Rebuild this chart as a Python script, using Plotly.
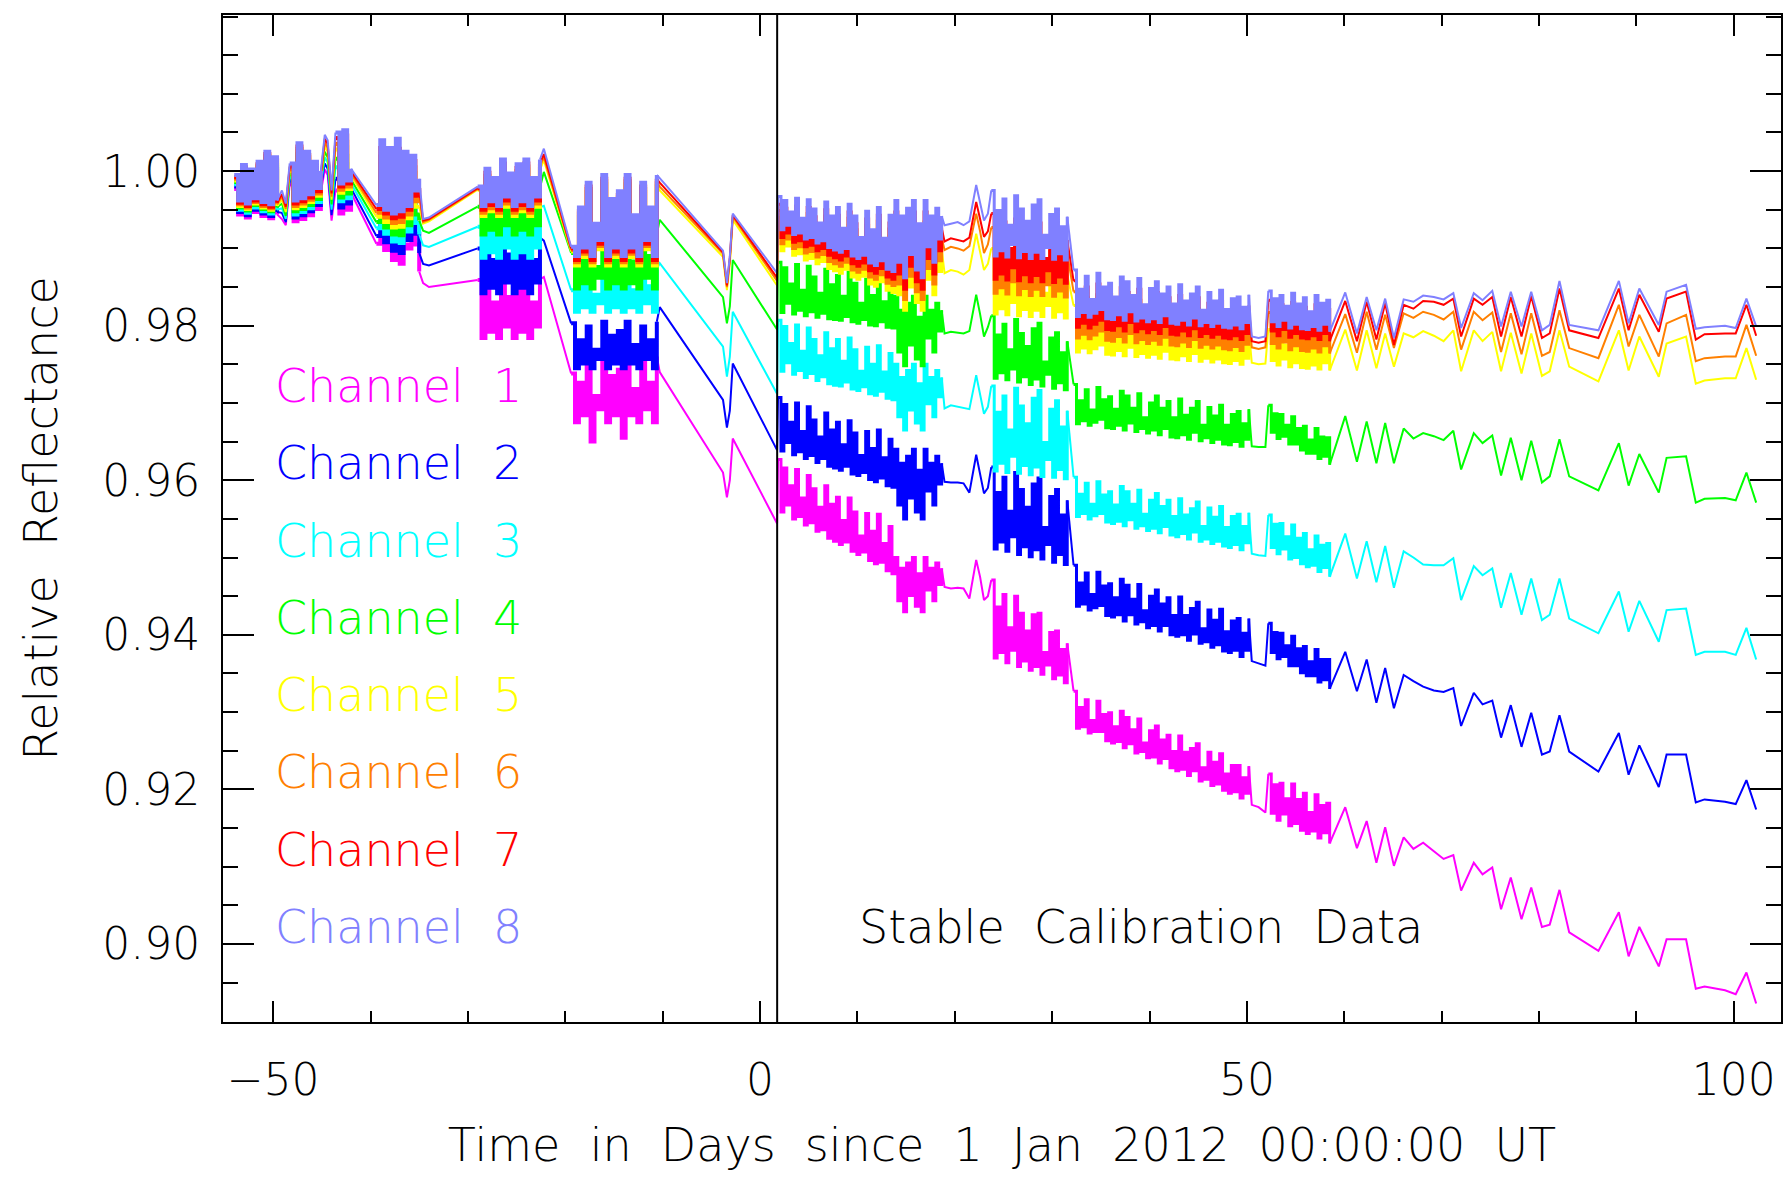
import plotly.graph_objects as go

# ---------------- data ----------------
days = [
    -54.0, -53.6, -53.2, -52.8, -52.4, -52.0, -51.6, -51.2, -50.8, -50.4, -50.0, -49.6,
    -49.1, -48.7,
    -48.3, -47.9, -47.5, -47.1, -46.7, -46.3, -45.9, -45.5, -45.1,
    -44.7, -44.4, -44.0,
    -43.6, -43.2, -42.8, -42.4, -42.0,
    -39.4, -39.0, -38.6, -38.2, -37.8, -37.4, -37.0, -36.6, -36.2, -35.8, -35.4, -35.0,
    -34.6, -34.0,
    -29.0, -28.6, -28.2, -27.8, -27.4, -27.0, -26.6, -26.2, -25.8, -25.4, -25.0, -24.6, -24.2, -23.8, -23.4, -23.0, -22.6,
    -22.2,
    -19.4, -19.0, -18.6, -18.2, -17.8, -17.4, -17.0, -16.6, -16.2, -15.8, -15.4, -15.0, -14.6, -14.2, -13.8, -13.4, -13.0, -12.6, -12.2, -11.8, -11.4, -11.0, -10.6,
    -10.3,
    -3.8, -3.4, -3.1, -2.8,
    1.75,
    1.85, 2.15, 2.45, 2.75, 3.05, 3.35, 3.65, 3.95, 4.25, 4.55, 4.85, 5.15, 5.45, 5.75, 6.05, 6.35, 6.65, 6.95, 7.25, 7.55,
    7.85, 8.15, 8.45, 8.75, 9.05, 9.35, 9.65, 9.95, 10.25, 10.55, 10.85, 11.15, 11.45, 11.75, 12.05, 12.35, 12.65, 12.95, 13.25, 13.55,
    13.85, 14.15, 14.45, 14.75, 15.05, 15.35, 15.65, 15.95, 16.25, 16.55, 16.85, 17.15, 17.45, 17.75, 18.05, 18.35, 18.65,
    18.95, 19.6, 20.3, 20.9, 21.5, 22.2, 22.6, 23.0, 23.4,
    23.75, 24.05, 24.35, 24.65, 24.95, 25.25, 25.55, 25.85, 26.15, 26.45, 26.75, 27.05, 27.35, 27.65, 27.95, 28.25, 28.55, 28.85, 29.15, 29.45,
    29.75, 30.05, 30.35, 30.65, 30.95, 31.25, 31.55,
    32.2, 32.5, 32.8, 33.1, 33.4, 33.7, 34.0, 34.3, 34.6, 34.9, 35.2, 35.5, 35.8, 36.1, 36.4, 36.7, 37.0, 37.3, 37.6, 37.9,
    38.2, 38.5, 38.8, 39.1, 39.4, 39.7, 40.0, 40.3, 40.6, 40.9, 41.2, 41.5, 41.8, 42.1, 42.4, 42.7, 43.0, 43.3, 43.6, 43.9,
    44.2, 44.5, 44.8, 45.1, 45.4, 45.7, 46.0, 46.3, 46.6, 46.9, 47.2, 47.5, 47.8, 48.1, 48.4, 48.7, 49.0, 49.3, 49.6, 49.9, 50.2,
    50.5, 51.2, 51.9,
    52.2, 52.5, 52.8, 53.1, 53.4, 53.7, 54.0, 54.3, 54.6, 54.9, 55.2, 55.5, 55.8, 56.1, 56.4, 56.7, 57.0, 57.3, 57.6, 57.9, 58.2, 58.5,
    60.1, 61.3, 62.3, 63.3, 64.2, 65.1, 66.1, 67.1, 68.1, 69.2, 70.2, 71.2, 72.0, 73.3, 74.2, 75.2, 76.1, 77.1, 78.2, 79.2,
    80.3, 81.1, 82.1, 83.1, 86.1, 88.2, 89.2, 90.3, 92.3, 93.1, 95.1, 96.1, 97.0, 99.1, 100.2, 101.3, 102.3,
]

ch1 = [
    0.9977, 0.9944, 0.9990, 0.9940, 0.9984, 0.9947, 0.9994, 0.9942, 1.0007, 0.9939, 1.0000, 0.9944,
    0.9938, 0.9930,
    0.9983, 0.9935, 1.0009, 0.9938, 0.9998, 0.9943, 0.9985, 0.9951, 0.9973,
    1.0002, 0.9995, 0.9936,
    0.9975, 0.9945, 0.9980, 0.9950, 0.9972,
    0.9906, 0.9935, 0.9898, 0.9925, 0.9885, 0.9915, 0.9880, 0.9905, 0.9900, 0.9945, 0.9905, 0.9870,
    0.9855, 0.9850,
    0.9859, 0.9784, 0.9845, 0.9792, 0.9830, 0.9784, 0.9860, 0.9799, 0.9837, 0.9784, 0.9852, 0.9792, 0.9860, 0.9784, 0.9830, 0.9799, 0.9860,
    0.9863,
    0.9738, 0.9675, 0.9726, 0.9684, 0.9752, 0.9650, 0.9709, 0.9692, 0.9760, 0.9675, 0.9735, 0.9684, 0.9743, 0.9655, 0.9760, 0.9684, 0.9718, 0.9675, 0.9752, 0.9692, 0.9726, 0.9675, 0.9760,
    0.9740,
    0.9610, 0.9578, 0.9600, 0.9654,
    0.9544,
    0.9627, 0.9559, 0.9616, 0.9568, 0.9593, 0.9550, 0.9614, 0.9553, 0.9577, 0.9542, 0.9606, 0.9545, 0.9589, 0.9534, 0.9565, 0.9536, 0.9593, 0.9525, 0.9569, 0.9521,
    0.9578, 0.9517, 0.9548, 0.9520, 0.9577, 0.9508, 0.9559, 0.9504, 0.9528, 0.9507, 0.9557, 0.9496, 0.9534, 0.9492, 0.9556, 0.9494, 0.9518, 0.9483, 0.9540, 0.9479,
    0.9500, 0.9444, 0.9486, 0.9430, 0.9493, 0.9451, 0.9500, 0.9437, 0.9479, 0.9430, 0.9500, 0.9458, 0.9486, 0.9444, 0.9493, 0.9465, 0.9486,
    0.9462, 0.9460, 0.9461, 0.9460, 0.9447, 0.9497, 0.9475, 0.9445, 0.9450,
    0.9471, 0.9370, 0.9436, 0.9377, 0.9452, 0.9364, 0.9409, 0.9380, 0.9450, 0.9359, 0.9428, 0.9366, 0.9405, 0.9354, 0.9426, 0.9359, 0.9428, 0.9349, 0.9377, 0.9361,
    0.9403, 0.9343, 0.9405, 0.9348, 0.9381, 0.9338, 0.9389,
    0.9327, 0.9279, 0.9306, 0.9281, 0.9316, 0.9273, 0.9289, 0.9275, 0.9314, 0.9275, 0.9297, 0.9263, 0.9299, 0.9260, 0.9281, 0.9262, 0.9301, 0.9254, 0.9293, 0.9259,
    0.9277, 0.9247, 0.9291, 0.9249, 0.9260, 0.9241, 0.9276, 0.9242, 0.9282, 0.9234, 0.9264, 0.9240, 0.9270, 0.9228, 0.9249, 0.9224, 0.9269, 0.9226, 0.9248, 0.9218,
    0.9253, 0.9224, 0.9259, 0.9211, 0.9228, 0.9213, 0.9248, 0.9205, 0.9235, 0.9207, 0.9246, 0.9199, 0.9220, 0.9195, 0.9231, 0.9197, 0.9231, 0.9189, 0.9215, 0.9195, 0.9230,
    0.9180, 0.9177, 0.9170,
    0.9220, 0.9169, 0.9206, 0.9160, 0.9208, 0.9168, 0.9188, 0.9153, 0.9207, 0.9156, 0.9187, 0.9147, 0.9195, 0.9143, 0.9170, 0.9146, 0.9193, 0.9137, 0.9179, 0.9144, 0.9182, 0.9130,
    0.9177, 0.9124, 0.9159, 0.9105, 0.9151, 0.9101, 0.9138, 0.9123, 0.9131, 0.9120, 0.9110, 0.9115, 0.9069, 0.9105, 0.9090, 0.9099, 0.9045, 0.9086, 0.9032, 0.9073,
    0.9022, 0.9025, 0.9070, 0.9015, 0.8991, 0.9041, 0.8984, 0.9022, 0.8971, 0.9006, 0.9006, 0.8942, 0.8945, 0.8940, 0.8935, 0.8963, 0.8923,
]

ch2 = [
    0.9980, 0.9947, 0.9993, 0.9943, 0.9987, 0.9950, 0.9997, 0.9945, 1.0010, 0.9942, 1.0003, 0.9947,
    0.9946, 0.9934,
    0.9988, 0.9940, 1.0014, 0.9943, 1.0003, 0.9948, 0.9990, 0.9956, 0.9978,
    1.0010, 1.0003, 0.9943,
    0.9990, 0.9953, 0.9995, 0.9958, 0.9978,
    0.9916, 0.9956, 0.9908, 0.9946, 0.9897, 0.9940, 0.9894, 0.9929, 0.9911, 0.9960, 0.9919, 0.9894,
    0.9880, 0.9878,
    0.9900, 0.9842, 0.9900, 0.9849, 0.9885, 0.9842, 0.9914, 0.9856, 0.9892, 0.9842, 0.9907, 0.9849, 0.9914, 0.9842, 0.9885, 0.9856, 0.9914,
    0.9910,
    0.9803, 0.9745, 0.9781, 0.9751, 0.9799, 0.9745, 0.9769, 0.9757, 0.9805, 0.9745, 0.9787, 0.9751, 0.9793, 0.9745, 0.9805, 0.9751, 0.9775, 0.9745, 0.9799, 0.9757, 0.9781, 0.9745, 0.9805,
    0.9824,
    0.9704, 0.9668, 0.9690, 0.9751,
    0.9639,
    0.9707, 0.9638, 0.9698, 0.9649, 0.9675, 0.9633, 0.9700, 0.9637, 0.9663, 0.9628, 0.9695, 0.9632, 0.9678, 0.9623, 0.9656, 0.9628, 0.9687, 0.9618, 0.9665, 0.9616,
    0.9675, 0.9613, 0.9646, 0.9618, 0.9677, 0.9608, 0.9661, 0.9606, 0.9632, 0.9610, 0.9663, 0.9601, 0.9641, 0.9598, 0.9665, 0.9603, 0.9629, 0.9593, 0.9653, 0.9591,
    0.9640, 0.9568, 0.9622, 0.9550, 0.9631, 0.9577, 0.9640, 0.9559, 0.9613, 0.9550, 0.9640, 0.9586, 0.9622, 0.9568, 0.9631, 0.9595, 0.9622,
    0.9598, 0.9597, 0.9597, 0.9596, 0.9584, 0.9633, 0.9610, 0.9583, 0.9590,
    0.9617, 0.9511, 0.9584, 0.9520, 0.9604, 0.9508, 0.9560, 0.9527, 0.9610, 0.9504, 0.9588, 0.9514, 0.9565, 0.9501, 0.9595, 0.9510, 0.9603, 0.9498, 0.9539, 0.9517,
    0.9579, 0.9494, 0.9588, 0.9504, 0.9555, 0.9491, 0.9574,
    0.9490, 0.9437, 0.9467, 0.9440, 0.9480, 0.9432, 0.9452, 0.9435, 0.9481, 0.9438, 0.9463, 0.9425, 0.9466, 0.9423, 0.9448, 0.9426, 0.9472, 0.9418, 0.9464, 0.9426,
    0.9446, 0.9414, 0.9465, 0.9417, 0.9431, 0.9409, 0.9450, 0.9412, 0.9458, 0.9405, 0.9440, 0.9412, 0.9448, 0.9400, 0.9425, 0.9398, 0.9449, 0.9400, 0.9425, 0.9393,
    0.9434, 0.9401, 0.9442, 0.9389, 0.9408, 0.9391, 0.9432, 0.9384, 0.9419, 0.9387, 0.9433, 0.9379, 0.9404, 0.9377, 0.9418, 0.9380, 0.9421, 0.9372, 0.9402, 0.9380, 0.9421,
    0.9366, 0.9363, 0.9360,
    0.9415, 0.9377, 0.9403, 0.9369, 0.9402, 0.9372, 0.9386, 0.9360, 0.9398, 0.9360, 0.9382, 0.9351, 0.9385, 0.9347, 0.9365, 0.9347, 0.9381, 0.9339, 0.9368, 0.9342, 0.9368, 0.9330,
    0.9378, 0.9327, 0.9368, 0.9312, 0.9357, 0.9305, 0.9348, 0.9340, 0.9333, 0.9328, 0.9326, 0.9331, 0.9282, 0.9325, 0.9310, 0.9315, 0.9267, 0.9309, 0.9255, 0.9299,
    0.9245, 0.9249, 0.9296, 0.9249, 0.9223, 0.9273, 0.9219, 0.9257, 0.9203, 0.9245, 0.9245, 0.9183, 0.9187, 0.9184, 0.9181, 0.9212, 0.9174,
]

ch3 = [
    0.9983, 0.9950, 0.9996, 0.9946, 0.9990, 0.9953, 1.0000, 0.9948, 1.0013, 0.9945, 1.0006, 0.9950,
    0.9952, 0.9938,
    0.9992, 0.9944, 1.0018, 0.9947, 1.0007, 0.9952, 0.9994, 0.9960, 0.9982,
    1.0018, 1.0011, 0.9950,
    1.0005, 0.9961, 1.0009, 0.9965, 0.9984,
    0.9926, 0.9977, 0.9919, 0.9967, 0.9909, 0.9966, 0.9907, 0.9953, 0.9922, 0.9975, 0.9933, 0.9918,
    0.9904, 0.9902,
    0.9928, 0.9888, 0.9940, 0.9895, 0.9927, 0.9888, 0.9953, 0.9901, 0.9934, 0.9888, 0.9947, 0.9895, 0.9953, 0.9888, 0.9927, 0.9901, 0.9953,
    0.9955,
    0.9846, 0.9818, 0.9851, 0.9824, 0.9868, 0.9818, 0.9840, 0.9829, 0.9873, 0.9818, 0.9857, 0.9824, 0.9862, 0.9818, 0.9873, 0.9824, 0.9846, 0.9818, 0.9868, 0.9829, 0.9851, 0.9818, 0.9873,
    0.9881,
    0.9773, 0.9734, 0.9760, 0.9818,
    0.9712,
    0.9807, 0.9741, 0.9799, 0.9752, 0.9777, 0.9737, 0.9801, 0.9742, 0.9767, 0.9733, 0.9797, 0.9738, 0.9782, 0.9729, 0.9761, 0.9734, 0.9791, 0.9725, 0.9770, 0.9723,
    0.9782, 0.9722, 0.9754, 0.9727, 0.9784, 0.9718, 0.9769, 0.9716, 0.9741, 0.9721, 0.9772, 0.9712, 0.9750, 0.9710, 0.9774, 0.9715, 0.9740, 0.9706, 0.9764, 0.9704,
    0.9750, 0.9682, 0.9733, 0.9665, 0.9742, 0.9691, 0.9750, 0.9674, 0.9725, 0.9665, 0.9750, 0.9699, 0.9733, 0.9682, 0.9742, 0.9708, 0.9733,
    0.9693, 0.9697, 0.9695, 0.9693, 0.9692, 0.9736, 0.9712, 0.9686, 0.9695,
    0.9722, 0.9612, 0.9688, 0.9622, 0.9709, 0.9610, 0.9665, 0.9631, 0.9719, 0.9609, 0.9696, 0.9619, 0.9673, 0.9607, 0.9706, 0.9617, 0.9716, 0.9605, 0.9649, 0.9627,
    0.9692, 0.9604, 0.9703, 0.9614, 0.9669, 0.9602, 0.9690,
    0.9604, 0.9553, 0.9582, 0.9557, 0.9596, 0.9550, 0.9569, 0.9554, 0.9598, 0.9557, 0.9581, 0.9546, 0.9585, 0.9544, 0.9568, 0.9547, 0.9592, 0.9541, 0.9585, 0.9549,
    0.9569, 0.9538, 0.9587, 0.9541, 0.9556, 0.9535, 0.9574, 0.9538, 0.9583, 0.9532, 0.9566, 0.9540, 0.9574, 0.9529, 0.9553, 0.9527, 0.9576, 0.9531, 0.9555, 0.9524,
    0.9563, 0.9533, 0.9572, 0.9521, 0.9540, 0.9524, 0.9564, 0.9518, 0.9552, 0.9521, 0.9566, 0.9515, 0.9539, 0.9513, 0.9553, 0.9517, 0.9556, 0.9510, 0.9540, 0.9519, 0.9558,
    0.9505, 0.9503, 0.9502,
    0.9555, 0.9513, 0.9543, 0.9505, 0.9544, 0.9511, 0.9527, 0.9498, 0.9542, 0.9500, 0.9525, 0.9492, 0.9531, 0.9488, 0.9510, 0.9490, 0.9528, 0.9482, 0.9516, 0.9487, 0.9518, 0.9475,
    0.9531, 0.9473, 0.9521, 0.9468, 0.9515, 0.9461, 0.9508, 0.9500, 0.9491, 0.9490, 0.9490, 0.9499, 0.9445, 0.9489, 0.9477, 0.9486, 0.9435, 0.9480, 0.9426, 0.9473,
    0.9419, 0.9426, 0.9473, 0.9421, 0.9402, 0.9456, 0.9404, 0.9444, 0.9391, 0.9432, 0.9434, 0.9374, 0.9378, 0.9378, 0.9374, 0.9409, 0.9368,
]

ch4 = [
    0.9986, 0.9953, 0.9999, 0.9949, 0.9993, 0.9956, 1.0003, 0.9951, 1.0016, 0.9948, 1.0009, 0.9953,
    0.9958, 0.9942,
    0.9996, 0.9948, 1.0022, 0.9951, 1.0011, 0.9956, 0.9998, 0.9964, 0.9986,
    1.0025, 1.0018, 0.9957,
    1.0016, 0.9966, 1.0020, 0.9971, 0.9989,
    0.9934, 0.9993, 0.9927, 0.9983, 0.9918, 0.9985, 0.9917, 0.9971, 0.9930, 0.9986, 0.9944, 0.9936,
    0.9923, 0.9920,
    0.9954, 0.9918, 0.9966, 0.9924, 0.9954, 0.9918, 0.9978, 0.9930, 0.9960, 0.9918, 0.9972, 0.9924, 0.9978, 0.9918, 0.9954, 0.9930, 0.9978,
    0.9999,
    0.9894, 0.9848, 0.9890, 0.9855, 0.9911, 0.9848, 0.9876, 0.9862, 0.9918, 0.9848, 0.9897, 0.9855, 0.9904, 0.9848, 0.9918, 0.9855, 0.9883, 0.9848, 0.9911, 0.9862, 0.9890, 0.9848, 0.9918,
    0.9937,
    0.9837, 0.9803, 0.9825, 0.9885,
    0.9795,
    0.9882, 0.9817, 0.9875, 0.9829, 0.9854, 0.9815, 0.9879, 0.9820, 0.9846, 0.9813, 0.9877, 0.9818, 0.9863, 0.9811, 0.9842, 0.9816, 0.9873, 0.9809, 0.9853, 0.9808,
    0.9865, 0.9807, 0.9838, 0.9812, 0.9869, 0.9805, 0.9855, 0.9803, 0.9829, 0.9808, 0.9860, 0.9801, 0.9839, 0.9800, 0.9864, 0.9805, 0.9831, 0.9798, 0.9856, 0.9797,
    0.9838, 0.9766, 0.9820, 0.9748, 0.9829, 0.9775, 0.9838, 0.9757, 0.9811, 0.9748, 0.9838, 0.9784, 0.9820, 0.9766, 0.9829, 0.9793, 0.9820,
    0.9790, 0.9792, 0.9791, 0.9790, 0.9793, 0.9840, 0.9815, 0.9786, 0.9798,
    0.9813, 0.9732, 0.9788, 0.9739, 0.9802, 0.9730, 0.9769, 0.9744, 0.9808, 0.9727, 0.9790, 0.9734, 0.9773, 0.9724, 0.9796, 0.9731, 0.9803, 0.9722, 0.9753, 0.9737,
    0.9784, 0.9719, 0.9791, 0.9726, 0.9765, 0.9717, 0.9780,
    0.9724, 0.9673, 0.9703, 0.9677, 0.9717, 0.9671, 0.9691, 0.9675, 0.9720, 0.9679, 0.9704, 0.9668, 0.9708, 0.9667, 0.9692, 0.9671, 0.9715, 0.9665, 0.9709, 0.9674,
    0.9693, 0.9663, 0.9712, 0.9667, 0.9681, 0.9661, 0.9700, 0.9665, 0.9709, 0.9659, 0.9693, 0.9667, 0.9702, 0.9656, 0.9681, 0.9655, 0.9705, 0.9659, 0.9684, 0.9653,
    0.9693, 0.9662, 0.9702, 0.9651, 0.9671, 0.9655, 0.9694, 0.9649, 0.9683, 0.9653, 0.9697, 0.9647, 0.9671, 0.9646, 0.9685, 0.9650, 0.9689, 0.9644, 0.9673, 0.9653, 0.9692,
    0.9644, 0.9643, 0.9643,
    0.9697, 0.9662, 0.9686, 0.9654, 0.9685, 0.9657, 0.9671, 0.9647, 0.9682, 0.9647, 0.9667, 0.9639, 0.9670, 0.9635, 0.9652, 0.9635, 0.9667, 0.9628, 0.9656, 0.9631, 0.9655, 0.9620,
    0.9683, 0.9624, 0.9676, 0.9622, 0.9674, 0.9622, 0.9667, 0.9654, 0.9661, 0.9657, 0.9652, 0.9664, 0.9614, 0.9661, 0.9648, 0.9658, 0.9606, 0.9655, 0.9600, 0.9651,
    0.9597, 0.9605, 0.9653, 0.9605, 0.9587, 0.9648, 0.9593, 0.9634, 0.9584, 0.9629, 0.9631, 0.9571, 0.9576, 0.9577, 0.9574, 0.9610, 0.9571,
]

ch5 = [
    0.9988, 0.9955, 1.0001, 0.9951, 0.9995, 0.9958, 1.0005, 0.9953, 1.0018, 0.9950, 1.0011, 0.9955,
    0.9963, 0.9947,
    1.0000, 0.9952, 1.0026, 0.9955, 1.0015, 0.9960, 1.0002, 0.9968, 0.9990,
    1.0032, 1.0025, 0.9963,
    1.0028, 0.9972, 1.0031, 0.9977, 0.9994,
    0.9941, 1.0009, 0.9934, 0.9999, 0.9927, 1.0004, 0.9928, 0.9989, 0.9939, 0.9998, 0.9954, 0.9954,
    0.9932, 0.9935,
    0.9976, 0.9942, 0.9990, 0.9948, 0.9978, 0.9942, 1.0002, 0.9954, 0.9984, 0.9942, 0.9996, 0.9948, 1.0002, 0.9942, 0.9978, 0.9954, 1.0002,
    1.0014,
    0.9896, 0.9878, 0.9941, 0.9889, 0.9973, 0.9878, 0.9920, 0.9899, 0.9983, 0.9878, 0.9952, 0.9889, 0.9962, 0.9878, 0.9983, 0.9889, 0.9931, 0.9878, 0.9973, 0.9899, 0.9941, 0.9878, 0.9983,
    0.9975,
    0.9889, 0.9846, 0.9880, 0.9937,
    0.9852,
    0.9940, 0.9897, 0.9935, 0.9903, 0.9920, 0.9891, 0.9938, 0.9893, 0.9912, 0.9885, 0.9936, 0.9887, 0.9924, 0.9880, 0.9906, 0.9883, 0.9933, 0.9874, 0.9915, 0.9871,
    0.9926, 0.9868, 0.9899, 0.9873, 0.9930, 0.9863, 0.9915, 0.9860, 0.9887, 0.9864, 0.9921, 0.9854, 0.9897, 0.9851, 0.9926, 0.9857, 0.9886, 0.9846, 0.9916, 0.9843,
    0.9920, 0.9840, 0.9900, 0.9820, 0.9910, 0.9850, 0.9920, 0.9830, 0.9890, 0.9820, 0.9920, 0.9860, 0.9900, 0.9840, 0.9910, 0.9870, 0.9900,
    0.9868, 0.9872, 0.9870, 0.9866, 0.9872, 0.9919, 0.9895, 0.9872, 0.9880,
    0.9900, 0.9815, 0.9874, 0.9822, 0.9889, 0.9814, 0.9855, 0.9830, 0.9893, 0.9813, 0.9876, 0.9821, 0.9860, 0.9812, 0.9881, 0.9820, 0.9888, 0.9812, 0.9842, 0.9826,
    0.9869, 0.9811, 0.9876, 0.9818, 0.9853, 0.9810, 0.9866,
    0.9826, 0.9766, 0.9801, 0.9771, 0.9818, 0.9765, 0.9788, 0.9770, 0.9822, 0.9775, 0.9804, 0.9763, 0.9809, 0.9762, 0.9791, 0.9768, 0.9817, 0.9761, 0.9811, 0.9772,
    0.9793, 0.9760, 0.9815, 0.9764, 0.9781, 0.9759, 0.9802, 0.9763, 0.9811, 0.9758, 0.9795, 0.9767, 0.9804, 0.9757, 0.9782, 0.9756, 0.9807, 0.9761, 0.9786, 0.9755,
    0.9795, 0.9764, 0.9804, 0.9754, 0.9774, 0.9758, 0.9797, 0.9753, 0.9786, 0.9757, 0.9800, 0.9752, 0.9775, 0.9751, 0.9789, 0.9755, 0.9791, 0.9750, 0.9778, 0.9758, 0.9794,
    0.9752, 0.9750, 0.9751,
    0.9795, 0.9755, 0.9785, 0.9749, 0.9789, 0.9757, 0.9775, 0.9747, 0.9792, 0.9752, 0.9778, 0.9746, 0.9786, 0.9745, 0.9768, 0.9749, 0.9789, 0.9744, 0.9779, 0.9752, 0.9783, 0.9742,
    0.9795, 0.9742, 0.9794, 0.9745, 0.9790, 0.9747, 0.9790, 0.9785, 0.9793, 0.9787, 0.9780, 0.9794, 0.9741, 0.9794, 0.9780, 0.9792, 0.9741, 0.9791, 0.9738, 0.9790,
    0.9735, 0.9741, 0.9794, 0.9747, 0.9728, 0.9794, 0.9742, 0.9786, 0.9734, 0.9777, 0.9786, 0.9725, 0.9729, 0.9732, 0.9732, 0.9771, 0.9730,
]

ch6 = [
    0.9990, 0.9957, 1.0003, 0.9953, 0.9997, 0.9960, 1.0007, 0.9955, 1.0020, 0.9952, 1.0013, 0.9957,
    0.9967, 0.9951,
    1.0003, 0.9955, 1.0029, 0.9958, 1.0018, 0.9963, 1.0005, 0.9971, 0.9993,
    1.0037, 1.0030, 0.9967,
    1.0035, 0.9976, 1.0038, 0.9980, 0.9997,
    0.9946, 1.0019, 0.9940, 1.0009, 0.9933, 1.0017, 0.9934, 1.0001, 0.9944, 1.0005, 0.9961, 0.9966,
    0.9934, 0.9937,
    0.9977, 0.9946, 0.9994, 0.9952, 0.9982, 0.9946, 1.0006, 0.9958, 0.9988, 0.9946, 1.0000, 0.9952, 1.0006, 0.9946, 0.9982, 0.9958, 1.0006,
    1.0018,
    0.9898, 0.9882, 0.9945, 0.9893, 0.9977, 0.9882, 0.9924, 0.9903, 0.9987, 0.9882, 0.9956, 0.9893, 0.9966, 0.9882, 0.9987, 0.9893, 0.9935, 0.9882, 0.9977, 0.9903, 0.9945, 0.9882, 0.9987,
    0.9980,
    0.9893, 0.9850, 0.9885, 0.9941,
    0.9858,
    0.9949, 0.9906, 0.9944, 0.9912, 0.9929, 0.9900, 0.9947, 0.9902, 0.9921, 0.9894, 0.9945, 0.9896, 0.9933, 0.9889, 0.9915, 0.9892, 0.9942, 0.9883, 0.9924, 0.9880,
    0.9935, 0.9877, 0.9908, 0.9882, 0.9939, 0.9872, 0.9924, 0.9869, 0.9896, 0.9873, 0.9930, 0.9863, 0.9906, 0.9860, 0.9935, 0.9866, 0.9895, 0.9855, 0.9925, 0.9852,
    0.9934, 0.9854, 0.9914, 0.9834, 0.9924, 0.9864, 0.9934, 0.9844, 0.9904, 0.9834, 0.9934, 0.9874, 0.9914, 0.9854, 0.9924, 0.9884, 0.9914,
    0.9898, 0.9902, 0.9900, 0.9897, 0.9903, 0.9945, 0.9922, 0.9894, 0.9905,
    0.9927, 0.9842, 0.9901, 0.9849, 0.9916, 0.9841, 0.9882, 0.9857, 0.9920, 0.9840, 0.9903, 0.9848, 0.9887, 0.9839, 0.9908, 0.9847, 0.9915, 0.9839, 0.9869, 0.9853,
    0.9896, 0.9838, 0.9903, 0.9845, 0.9880, 0.9837, 0.9893,
    0.9844, 0.9784, 0.9819, 0.9789, 0.9836, 0.9783, 0.9806, 0.9788, 0.9840, 0.9793, 0.9822, 0.9781, 0.9827, 0.9780, 0.9809, 0.9786, 0.9835, 0.9779, 0.9829, 0.9790,
    0.9811, 0.9778, 0.9833, 0.9782, 0.9799, 0.9777, 0.9820, 0.9781, 0.9829, 0.9776, 0.9813, 0.9785, 0.9822, 0.9775, 0.9800, 0.9774, 0.9825, 0.9779, 0.9804, 0.9773,
    0.9813, 0.9782, 0.9822, 0.9772, 0.9792, 0.9776, 0.9815, 0.9771, 0.9804, 0.9775, 0.9818, 0.9770, 0.9793, 0.9769, 0.9807, 0.9773, 0.9809, 0.9768, 0.9796, 0.9776, 0.9812,
    0.9772, 0.9770, 0.9772,
    0.9817, 0.9777, 0.9807, 0.9771, 0.9811, 0.9779, 0.9797, 0.9769, 0.9814, 0.9774, 0.9800, 0.9768, 0.9808, 0.9767, 0.9790, 0.9771, 0.9811, 0.9766, 0.9801, 0.9774, 0.9805, 0.9764,
    0.9815, 0.9765, 0.9818, 0.9769, 0.9814, 0.9771, 0.9816, 0.9810, 0.9818, 0.9814, 0.9808, 0.9818, 0.9769, 0.9818, 0.9807, 0.9817, 0.9766, 0.9816, 0.9763, 0.9816,
    0.9761, 0.9766, 0.9820, 0.9771, 0.9758, 0.9827, 0.9773, 0.9814, 0.9760, 0.9803, 0.9814, 0.9754, 0.9758, 0.9760, 0.9760, 0.9801, 0.9761,
]

ch7 = [
    0.9992, 0.9959, 1.0005, 0.9955, 0.9999, 0.9962, 1.0009, 0.9957, 1.0022, 0.9954, 1.0015, 0.9959,
    0.9970, 0.9954,
    1.0006, 0.9958, 1.0032, 0.9961, 1.0021, 0.9966, 1.0008, 0.9974, 0.9996,
    1.0042, 1.0035, 0.9971,
    1.0043, 0.9980, 1.0046, 0.9984, 1.0000,
    0.9951, 1.0030, 0.9945, 1.0020, 0.9939, 1.0029, 0.9941, 1.0013, 0.9950, 1.0013, 0.9968, 0.9978,
    0.9936, 0.9938,
    0.9978, 0.9950, 0.9998, 0.9956, 0.9986, 0.9950, 1.0010, 0.9962, 0.9992, 0.9950, 1.0004, 0.9956, 1.0010, 0.9950, 0.9986, 0.9962, 1.0010,
    1.0022,
    0.9900, 0.9885, 0.9948, 0.9896, 0.9980, 0.9885, 0.9927, 0.9906, 0.9990, 0.9885, 0.9959, 0.9896, 0.9969, 0.9885, 0.9990, 0.9896, 0.9938, 0.9885, 0.9980, 0.9906, 0.9948, 0.9885, 0.9990,
    0.9985,
    0.9895, 0.9852, 0.9888, 0.9943,
    0.9862,
    0.9957, 0.9914, 0.9952, 0.9920, 0.9937, 0.9908, 0.9955, 0.9910, 0.9929, 0.9902, 0.9953, 0.9904, 0.9941, 0.9897, 0.9923, 0.9900, 0.9950, 0.9891, 0.9932, 0.9888,
    0.9943, 0.9885, 0.9916, 0.9890, 0.9947, 0.9880, 0.9932, 0.9877, 0.9904, 0.9881, 0.9938, 0.9871, 0.9914, 0.9868, 0.9943, 0.9874, 0.9903, 0.9863, 0.9933, 0.9860,
    0.9947, 0.9867, 0.9927, 0.9847, 0.9937, 0.9877, 0.9947, 0.9857, 0.9917, 0.9847, 0.9947, 0.9887, 0.9927, 0.9867, 0.9937, 0.9897, 0.9927,
    0.9909, 0.9913, 0.9911, 0.9909, 0.9914, 0.9960, 0.9938, 0.9915, 0.9922,
    0.9945, 0.9860, 0.9919, 0.9867, 0.9934, 0.9859, 0.9900, 0.9875, 0.9938, 0.9858, 0.9921, 0.9866, 0.9905, 0.9857, 0.9926, 0.9865, 0.9933, 0.9857, 0.9887, 0.9871,
    0.9914, 0.9856, 0.9921, 0.9863, 0.9898, 0.9855, 0.9911,
    0.9858, 0.9798, 0.9833, 0.9803, 0.9850, 0.9797, 0.9820, 0.9802, 0.9854, 0.9807, 0.9836, 0.9795, 0.9841, 0.9794, 0.9823, 0.9800, 0.9849, 0.9793, 0.9843, 0.9804,
    0.9825, 0.9792, 0.9847, 0.9796, 0.9813, 0.9791, 0.9834, 0.9795, 0.9843, 0.9790, 0.9827, 0.9799, 0.9836, 0.9789, 0.9814, 0.9788, 0.9839, 0.9793, 0.9818, 0.9787,
    0.9827, 0.9796, 0.9836, 0.9786, 0.9806, 0.9790, 0.9829, 0.9785, 0.9818, 0.9789, 0.9832, 0.9784, 0.9807, 0.9783, 0.9821, 0.9787, 0.9823, 0.9782, 0.9810, 0.9790, 0.9826,
    0.9780, 0.9778, 0.9780,
    0.9833, 0.9793, 0.9823, 0.9787, 0.9827, 0.9795, 0.9813, 0.9785, 0.9830, 0.9790, 0.9816, 0.9784, 0.9824, 0.9783, 0.9806, 0.9787, 0.9827, 0.9782, 0.9817, 0.9790, 0.9821, 0.9780,
    0.9832, 0.9780, 0.9831, 0.9782, 0.9829, 0.9775, 0.9827, 0.9822, 0.9832, 0.9831, 0.9827, 0.9835, 0.9786, 0.9835, 0.9827, 0.9837, 0.9786, 0.9837, 0.9786, 0.9838,
    0.9784, 0.9790, 0.9848, 0.9794, 0.9784, 0.9848, 0.9794, 0.9840, 0.9792, 0.9835, 0.9844, 0.9782, 0.9789, 0.9790, 0.9790, 0.9827, 0.9787,
]

ch8 = [
    0.9995, 0.9962, 1.0008, 0.9958, 1.0002, 0.9965, 1.0012, 0.9960, 1.0025, 0.9957, 1.0018, 0.9962,
    0.9975, 0.9958,
    1.0010, 0.9962, 1.0036, 0.9965, 1.0025, 0.9970, 1.0012, 0.9978, 1.0000,
    1.0047, 1.0040, 0.9975,
    1.0050, 0.9984, 1.0053, 0.9988, 1.0003,
    0.9956, 1.0040, 0.9950, 1.0030, 0.9945, 1.0042, 0.9948, 1.0025, 0.9955, 1.0020, 0.9975, 0.9990,
    0.9938, 0.9940,
    0.9980, 0.9955, 1.0003, 0.9961, 0.9991, 0.9955, 1.0015, 0.9967, 0.9997, 0.9955, 1.0009, 0.9961, 1.0015, 0.9955, 0.9991, 0.9967, 1.0015,
    1.0029,
    0.9902, 0.9890, 0.9953, 0.9901, 0.9985, 0.9890, 0.9932, 0.9911, 0.9995, 0.9890, 0.9964, 0.9901, 0.9974, 0.9890, 0.9995, 0.9901, 0.9943, 0.9890, 0.9985, 0.9911, 0.9953, 0.9890, 0.9995,
    0.9991,
    0.9897, 0.9855, 0.9890, 0.9945,
    0.9868,
    0.9967, 0.9924, 0.9962, 0.9930, 0.9947, 0.9918, 0.9965, 0.9920, 0.9939, 0.9912, 0.9963, 0.9914, 0.9951, 0.9907, 0.9933, 0.9910, 0.9960, 0.9901, 0.9942, 0.9898,
    0.9953, 0.9895, 0.9926, 0.9900, 0.9957, 0.9890, 0.9942, 0.9887, 0.9914, 0.9891, 0.9948, 0.9881, 0.9924, 0.9878, 0.9953, 0.9884, 0.9913, 0.9873, 0.9943, 0.9870,
    0.9962, 0.9882, 0.9942, 0.9862, 0.9952, 0.9892, 0.9962, 0.9872, 0.9932, 0.9862, 0.9962, 0.9902, 0.9942, 0.9882, 0.9952, 0.9912, 0.9942,
    0.9930, 0.9932, 0.9934, 0.9930, 0.9935, 0.9982, 0.9960, 0.9936, 0.9945,
    0.9975, 0.9890, 0.9949, 0.9897, 0.9964, 0.9889, 0.9930, 0.9905, 0.9968, 0.9888, 0.9951, 0.9896, 0.9935, 0.9887, 0.9956, 0.9895, 0.9963, 0.9887, 0.9917, 0.9901,
    0.9944, 0.9886, 0.9951, 0.9893, 0.9928, 0.9885, 0.9941,
    0.9872, 0.9812, 0.9847, 0.9817, 0.9864, 0.9811, 0.9834, 0.9816, 0.9868, 0.9821, 0.9850, 0.9809, 0.9855, 0.9808, 0.9837, 0.9814, 0.9863, 0.9807, 0.9857, 0.9818,
    0.9839, 0.9806, 0.9861, 0.9810, 0.9827, 0.9805, 0.9848, 0.9809, 0.9857, 0.9804, 0.9841, 0.9813, 0.9850, 0.9803, 0.9828, 0.9802, 0.9853, 0.9807, 0.9832, 0.9801,
    0.9841, 0.9810, 0.9850, 0.9800, 0.9820, 0.9804, 0.9843, 0.9799, 0.9832, 0.9803, 0.9846, 0.9798, 0.9821, 0.9797, 0.9835, 0.9801, 0.9837, 0.9796, 0.9824, 0.9804, 0.9840,
    0.9786, 0.9784, 0.9786,
    0.9845, 0.9805, 0.9835, 0.9799, 0.9839, 0.9807, 0.9825, 0.9797, 0.9842, 0.9802, 0.9828, 0.9796, 0.9836, 0.9795, 0.9818, 0.9799, 0.9839, 0.9794, 0.9829, 0.9802, 0.9833, 0.9792,
    0.9843, 0.9790, 0.9837, 0.9794, 0.9835, 0.9784, 0.9834, 0.9831, 0.9839, 0.9837, 0.9834, 0.9842, 0.9797, 0.9842, 0.9833, 0.9845, 0.9799, 0.9844, 0.9799, 0.9844,
    0.9794, 0.9801, 0.9858, 0.9801, 0.9794, 0.9858, 0.9803, 0.9848, 0.9801, 0.9844, 0.9853, 0.9796, 0.9798, 0.9800, 0.9797, 0.9835, 0.9799,
]

channel_labels = ["Channel\u00a0\u00a01", "Channel\u00a0\u00a02", "Channel\u00a0\u00a03", "Channel\u00a0\u00a04",
                  "Channel\u00a0\u00a05", "Channel\u00a0\u00a06", "Channel\u00a0\u00a07", "Channel\u00a0\u00a08"]
channel_colors = ["#FF00FF", "#0000FF", "#00FFFF", "#00FF00", "#FFFF00", "#FF8000", "#FF0000", "#8080FF"]
channels = [ch1, ch2, ch3, ch4, ch5, ch6, ch7, ch8]

x_ticks = [-50, 0, 50, 100]
y_ticks = [0.90, 0.92, 0.94, 0.96, 0.98, 1.00]

# index spans (inclusive) of the densely sampled calibration bursts, drawn as step traces,
# with the stroke width used for each (wider where the samples are sparser)
dense_spans = [(0, 11, 4), (14, 22, 4), (26, 30, 4), (31, 42, 4), (45, 61, 4), (63, 85, 4),
               (92, 148, 3), (158, 184, 3), (185, 245, 3), (249, 270, 3)]

# layout settings
stable_start_day = 1.76
label_day = -50
label_levels = [0.97, 0.96, 0.95, 0.94, 0.93, 0.92, 0.91, 0.90]
note_day = 10
FONT = "DejaVu Sans"
WEIGHT = 200
LW = 2

for c in channels:
    assert len(c) == len(days), (len(c), len(days))

interior = set()
for s, e, _w in dense_spans:
    interior.update(range(s + 1, e))

fig = go.Figure()
for lab, col, vals in zip(channel_labels, channel_colors, channels):
    # connecting / sparse parts as straight segments
    sparse_vals = [None if i in interior else v for i, v in enumerate(vals)]
    fig.add_trace(go.Scatter(x=days, y=sparse_vals, mode="lines", name=lab,
                             line=dict(color=col, width=LW), connectgaps=False,
                             showlegend=False, hoverinfo="skip"))
    # dense bursts
    for s, e, w in dense_spans:
        fig.add_trace(go.Scatter(x=days[s:e + 1], y=vals[s:e + 1], mode="lines", name=lab,
                                 line=dict(color=col, width=w, shape="hv"),
                                 showlegend=False, hoverinfo="skip"))

annotations = []
for lab, col, lvl in zip(channel_labels, channel_colors, label_levels):
    annotations.append(dict(x=label_day, y=lvl, xref="x", yref="y", text=lab,
                            showarrow=False, xanchor="left", yanchor="bottom",
                            yshift=-12, font=dict(family=FONT, size=46, color=col, weight=WEIGHT)))
annotations.append(dict(x=note_day, y=label_levels[-1], xref="x", yref="y",
                        text="Stable\u00a0\u00a0Calibration\u00a0\u00a0Data",
                        showarrow=False, xanchor="left", yanchor="bottom", yshift=-12,
                        font=dict(family=FONT, size=46, color="black", weight=WEIGHT)))

fig.update_layout(
    width=1786, height=1177,
    margin=dict(l=223, r=3, t=15, b=155),
    paper_bgcolor="white", plot_bgcolor="white",
    annotations=annotations,
    shapes=[dict(type="line", xref="x", yref="paper", x0=stable_start_day, x1=stable_start_day,
                 y0=0, y1=1, line=dict(color="black", width=2))],
)

fig.update_xaxes(
    range=[-55.15, 104.85], tickmode="array", tickvals=x_ticks,
    ticks="inside", ticklen=21, tickwidth=2, tickcolor="black",
    showline=True, linecolor="black", linewidth=2, mirror="ticks",
    showgrid=False, zeroline=False,
    tickfont=dict(family=FONT, size=44, color="black", weight=WEIGHT), ticklabelstandoff=18,
    minor=dict(dtick=10, tick0=0, ticks="inside", ticklen=11, tickwidth=2, tickcolor="black", showgrid=False),
    title=dict(text="Time\u00a0\u00a0in\u00a0\u00a0Days\u00a0\u00a0since\u00a0\u00a01\u00a0\u00a0Jan\u00a0\u00a02012\u00a0\u00a000:00:00\u00a0\u00a0UT",
               font=dict(family=FONT, size=46, color="black", weight=WEIGHT), standoff=25),
)
fig.update_yaxes(
    range=[0.8899, 1.0202], tickmode="array", tickvals=y_ticks, tickformat=".2f",
    ticks="inside", ticklen=31, tickwidth=2, tickcolor="black",
    showline=True, linecolor="black", linewidth=2, mirror="ticks",
    showgrid=False, zeroline=False,
    tickfont=dict(family=FONT, size=44, color="black", weight=WEIGHT), ticklabelstandoff=12,
    minor=dict(dtick=0.005, tick0=0.9, ticks="inside", ticklen=15, tickwidth=2, tickcolor="black", showgrid=False),
    title=dict(text="Relative\u00a0\u00a0Reflectance", font=dict(family=FONT, size=46, color="black", weight=WEIGHT), standoff=30),
)

fig.write_html("out.html", config={"displayModeBar": False},
               post_script="document.body.style.margin='0';document.body.style.overflow='hidden';")
